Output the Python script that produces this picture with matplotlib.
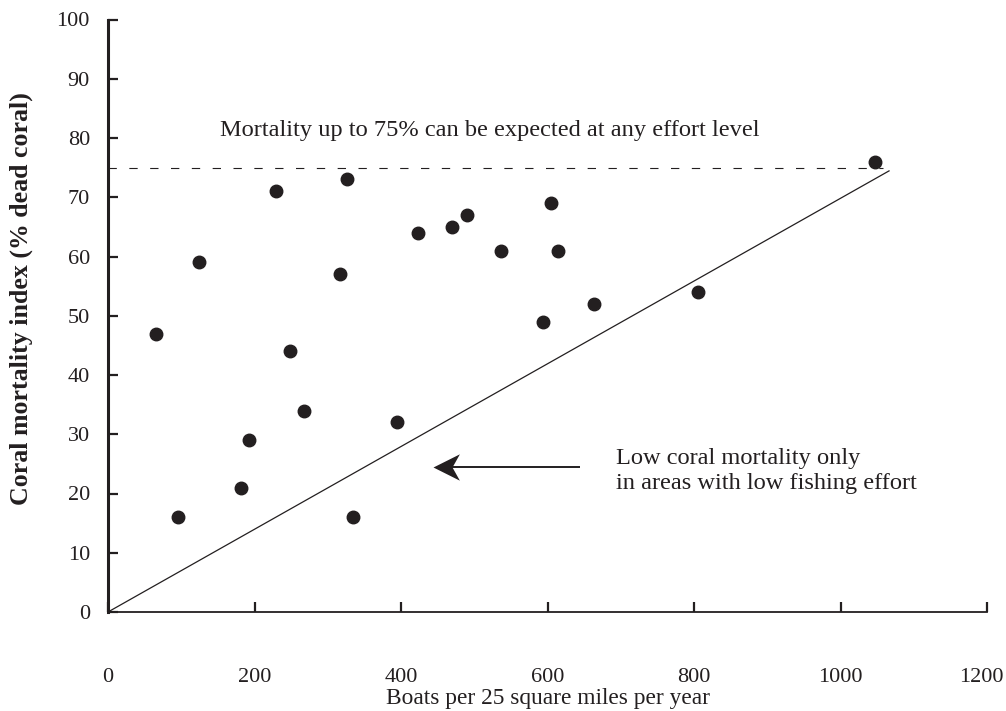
import matplotlib
matplotlib.use("Agg")
import matplotlib.pyplot as plt
from matplotlib.path import Path
from matplotlib.transforms import ScaledTranslation

# ---- data ----
boats = [66, 96, 124, 182, 192, 230, 249, 268, 317, 326, 335, 394,
         423, 470, 490, 537, 594, 605, 614, 663, 806, 1047]
mortality = [47, 16, 59, 21, 29, 71, 44, 34, 57, 73, 16, 32,
             64, 65, 67, 61, 49, 69, 61, 52, 54, 76]

bound_x = [0, 1067]
bound_y = [0, 74.5]
max_level = 75
max_level_x = [0, 1058]

x_ticks = [200, 400, 600, 800, 1000, 1200]
x_tick_labels = ["200", "400", "600", "800", "1000", "1200"]
y_ticks = [0, 10, 20, 30, 40, 50, 60, 70, 80, 90, 100]

x_label = "Boats per 25 square miles per year"
y_label = "Coral mortality index (% dead coral)"
note_top = "Mortality up to 75% can be expected at any effort level"
note_low = "Low coral mortality only\nin areas with low fishing effort"

# ---- style ----
plt.rcParams['font.family'] = ['Liberation Serif', 'DejaVu Serif']
plt.rcParams['lines.scale_dashes'] = False
ink = '#231f20'
FS = 16
FS_TXT = 17.6

fig = plt.figure(figsize=(10.06, 7.11), dpi=100)
ax = fig.add_axes([108/1006, (711-612)/711, 879/1006, 592.5/711])

ax.set_xlim(0, 1200)
ax.set_ylim(0, 100)

for s in ['top', 'right']:
    ax.spines[s].set_visible(False)
ax.spines['left'].set_linewidth(2.2)
ax.spines['left'].set_color(ink)
ax.spines['bottom'].set_linewidth(1.3)
ax.spines['bottom'].set_color(ink)

ax.set_xticks([0] + x_ticks)
ax.set_xticklabels(["0"] + x_tick_labels)
ax.set_yticks(y_ticks)
ax.set_yticklabels([str(v) for v in y_ticks])
ax.tick_params(axis='x', direction='in', length=7.5, width=1.6, color=ink,
               pad=40, labelsize=FS, labelcolor=ink)
ax.tick_params(axis='y', direction='in', length=7, width=1.6, color=ink,
               pad=13, labelsize=FS, labelcolor=ink)

# last x tick label nudged inward, as in the reference
last = ax.get_xticklabels()[-1]
last.set_transform(last.get_transform() +
                   ScaledTranslation(-6/100, 0, fig.dpi_scale_trans))

# boundary line and max-level dashed line
ax.plot(bound_x, bound_y, color=ink, lw=0.9, solid_capstyle='butt')
ax.plot(max_level_x, [max_level, max_level], color=ink, lw=0.8,
        dashes=(6, 9))

# points
ax.plot(boats, mortality, 'o', ms=9, color=ink, mec=ink, ls='none')

# annotations
ax.text(521, 81.2, note_top, fontsize=FS_TXT, color=ink, ha='center', va='center')
ax.text(694, 23.8, note_low, fontsize=FS_TXT, color=ink, ha='left', va='center',
        linespacing=1.3)

arrow_y = 24.4
ax.plot([444 + 8, 644], [arrow_y, arrow_y], color=ink, lw=1.4,
        solid_capstyle='butt')
head = Path([(0, 0), (1, 0.5), (0.72, 0), (1, -0.5), (0, 0)],
            [Path.MOVETO, Path.LINETO, Path.LINETO, Path.LINETO, Path.CLOSEPOLY])
ax.plot([444], [arrow_y], marker=head, ms=38, color=ink, mec=ink, mew=0,
        ls='none')

ax.set_xlabel(x_label, fontsize=16.8, color=ink, va='center')
ax.xaxis.set_label_coords(0.5, -0.1465)
ax.set_ylabel(y_label, fontsize=18.6, color=ink, fontweight='bold', va='center')
ax.yaxis.set_label_coords(-0.099, 0.529)

fig.savefig("out.png", dpi=100)
